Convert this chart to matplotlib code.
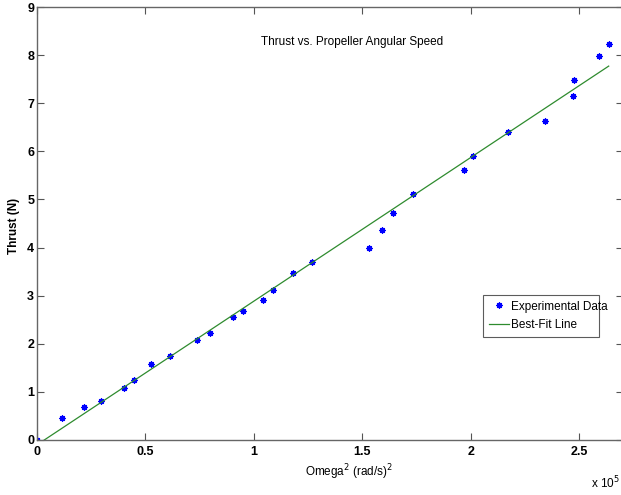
import matplotlib
matplotlib.use("Agg")
import matplotlib.pyplot as plt
from matplotlib.ticker import FuncFormatter, MultipleLocator
import numpy as np

plt.rcParams['font.family'] = ['Liberation Sans Narrow', 'Liberation Sans', 'DejaVu Sans']

# Omega^2 in (rad/s)^2
omega_sq = [0, 11700, 21500, 29700, 40100, 44700, 52700, 61500, 73700, 80000,
            90600, 95200, 104100, 108900, 118100, 126800, 153000, 159100, 164400,
            173300, 196800, 201000, 217400, 234300, 247200, 247600, 259400, 263700]
# Thrust in N
thrust = [0.0, 0.46, 0.69, 0.82, 1.09, 1.24, 1.58, 1.75, 2.07, 2.22,
          2.55, 2.69, 2.92, 3.11, 3.47, 3.71, 3.99, 4.36, 4.71,
          5.11, 5.62, 5.90, 6.41, 6.64, 7.15, 7.48, 7.98, 8.24]

# Best-fit line coefficients
fit_slope = 2.985e-5
fit_intercept = -0.10

title = "Thrust vs. Propeller Angular Speed"
xlabel = r"Omega$^2$ (rad/s)$^2$"
ylabel = "Thrust (N)"

W, H = 621, 495
fig = plt.figure(figsize=(W / 100, H / 100), dpi=100)
ax = fig.add_axes([37 / W, (H - 440) / H, (623 - 37) / W, (440 - 7) / H])

x = np.array(omega_sq, dtype=float)
fit_x = np.array([x.min(), x.max()])
fit_y = fit_slope * fit_x + fit_intercept

ax.plot(x, thrust, linestyle='none', marker=(8, 2, 0), color='#0000ff', markersize=4.5,
        markeredgewidth=0.9, label='Experimental Data')
ax.plot(fit_x, fit_y, color='#2e8b2e', linewidth=0.9, label='Best-Fit Line')

ax.set_xlim(0, 2.703e5)
ax.set_ylim(0, 9)
ax.xaxis.set_major_locator(MultipleLocator(0.5e5))
ax.yaxis.set_major_locator(MultipleLocator(1))
ax.xaxis.set_major_formatter(FuncFormatter(lambda v, p: f"{v/1e5:g}"))
ax.tick_params(direction='in', top=True, right=True, length=5, width=0.8,
               color='#555555', labelsize=9, pad=4)
ax.tick_params(axis='y', pad=2)
for lab in ax.get_xticklabels() + ax.get_yticklabels():
    lab.set_fontweight('bold')
for s in ax.spines.values():
    s.set_color('#666666')
    s.set_linewidth(1.0)

ax.text((352 - 37) / (623 - 37), (440 - 42) / (440 - 7), title, transform=ax.transAxes,
        ha='center', va='center', fontsize=8.5)
fig.text(349 / W, 1 - 472 / H, xlabel, ha='center', va='center', fontsize=8.5)
fig.text(14 / W, 1 - 226 / H, ylabel, ha='center', va='center', rotation=90,
         fontsize=8.5, fontweight='bold')
fig.text(605 / W, 1 - 483 / H, r"x 10$^5$", ha='center', va='center', fontsize=8.5)

leg = ax.legend(loc='lower left', bbox_to_anchor=((483 - 37) / (623 - 37), (440 - 337) / (440 - 7),
                                                  (599 - 483) / (623 - 37), (337 - 288) / (440 - 7)),
                mode='expand', fontsize=8.5, frameon=True, fancybox=False, borderpad=0.5,
                handlelength=1.7, handletextpad=0.2, labelspacing=0.55, borderaxespad=0)
leg.get_frame().set_edgecolor('#333333')
leg.get_frame().set_linewidth(0.8)

fig.savefig("out.png", dpi=100)
